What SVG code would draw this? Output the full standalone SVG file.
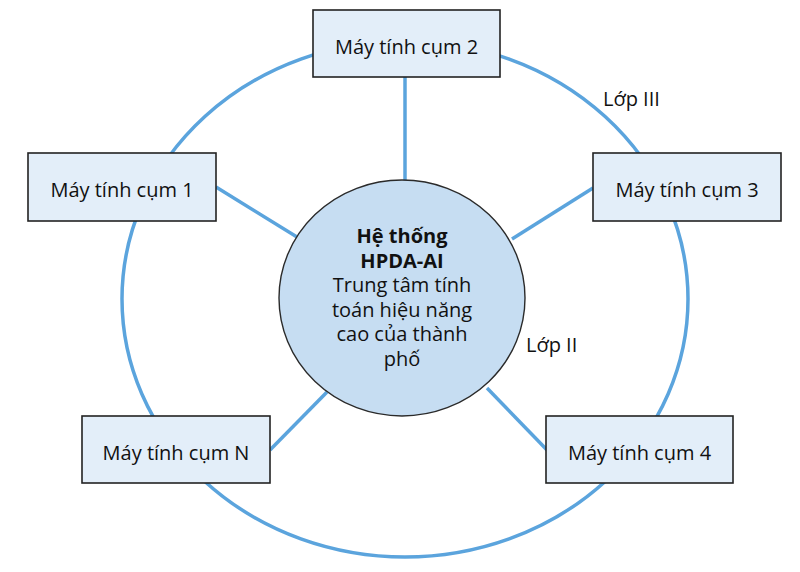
<svg xmlns="http://www.w3.org/2000/svg" width="800" height="572" viewBox="0 0 800 572">
<style>
.ring{fill:none;stroke:#5BA4DD;stroke-width:3.5}
.link{stroke:#5BA4DD;stroke-width:3.5;fill:none}
.box{fill:#E3EEF9;stroke:#222;stroke-width:1.6}
.hub{fill:#C6DDF2;stroke:#2a2a2a;stroke-width:1.4}
text{font-family:"Open Sans","Liberation Sans",sans-serif;font-size:20px;fill:#111;text-anchor:middle}
.b{font-weight:bold}
.lbl{text-anchor:start}
</style>
<rect width="800" height="572" fill="#fff"/>
<g id="connectors">
<ellipse class="ring" cx="405" cy="299" rx="283" ry="258"/>
<line class="link" x1="405" y1="77" x2="405" y2="181"/>
<line class="link" x1="216" y1="187" x2="297" y2="237"/>
<line class="link" x1="593" y1="188" x2="512" y2="239"/>
<line class="link" x1="270" y1="450" x2="327" y2="392"/>
<line class="link" x1="487" y1="388" x2="547" y2="450"/>
</g>
<g id="hub">
<ellipse class="hub" cx="402" cy="298" rx="123" ry="118"/>
<text x="402" y="243" class="b">Hệ thống</text>
<text x="402" y="267.5" class="b">HPDA-AI</text>
<text x="402" y="292">Trung tâm tính</text>
<text x="402" y="316.5">toán hiệu năng</text>
<text x="402" y="341">cao của thành</text>
<text x="402" y="365.5">phố</text>
</g>
<g id="cluster2"><rect class="box" x="313" y="10" width="187" height="67"/><text x="406.5" y="54">Máy tính cụm 2</text></g>
<g id="cluster1"><rect class="box" x="28" y="153" width="188" height="68"/><text x="122" y="197">Máy tính cụm 1</text></g>
<g id="cluster3"><rect class="box" x="593" y="153" width="188" height="68"/><text x="687" y="197">Máy tính cụm 3</text></g>
<g id="clusterN"><rect class="box" x="82" y="416" width="188" height="67"/><text x="176" y="460">Máy tính cụm N</text></g>
<g id="cluster4"><rect class="box" x="546" y="416" width="187" height="67"/><text x="639.5" y="460">Máy tính cụm 4</text></g>
<g id="labels">
<text class="lbl" x="603" y="106">Lớp III</text>
<text class="lbl" x="526" y="352">Lớp II</text>
</g>
</svg>
